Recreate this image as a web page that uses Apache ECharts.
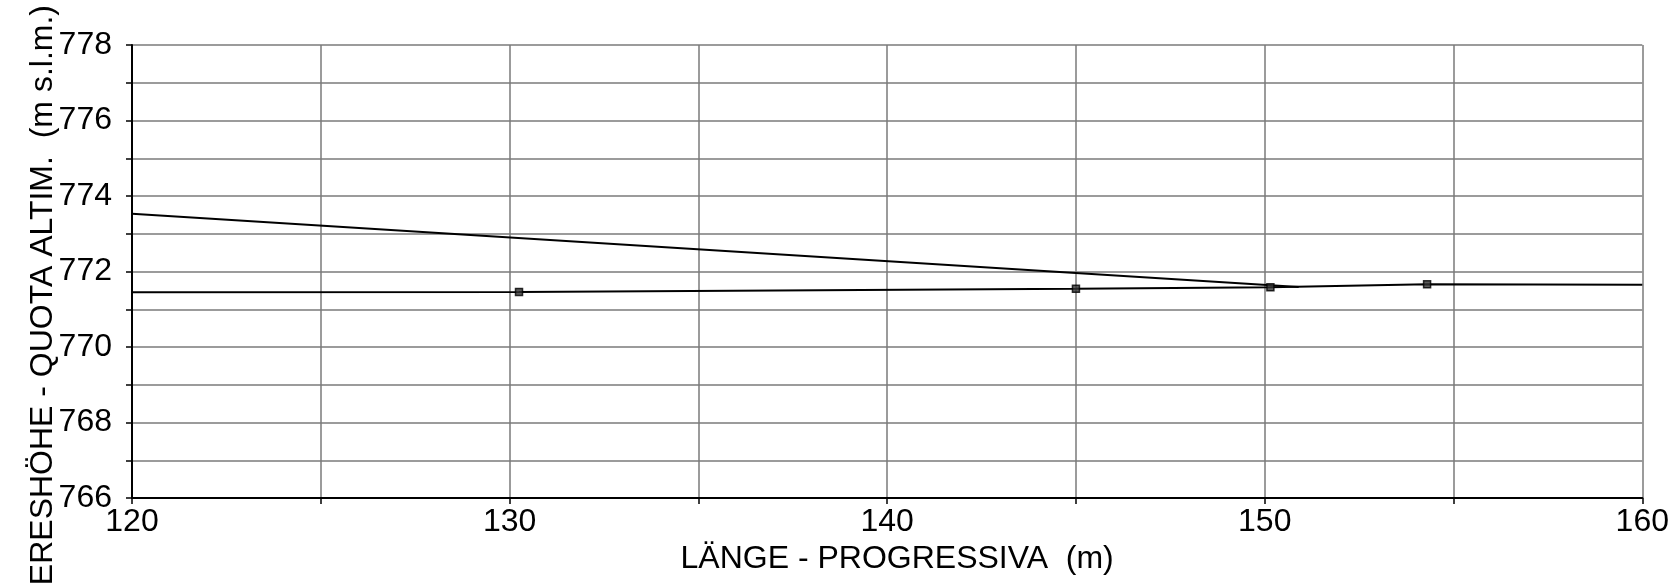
<!DOCTYPE html>
<html>
<head>
<meta charset="utf-8">
<script src="https://cdn.jsdelivr.net/npm/echarts@6/dist/echarts.min.js"></script>
<style>
html,body{margin:0;padding:0;background:#fff;}
#chart{width:1672px;height:585px;}
</style>
</head>
<body>
<div id="chart"></div>
<script>
// Terrain profile (with survey points)
var groundX = [120, 130.25, 145.0, 150.15, 154.3, 160];
var groundY = [771.45, 771.46, 771.54, 771.58, 771.66, 771.65];
// Survey point markers
var pointX = [130.25, 145.0, 150.15, 154.3];
var pointY = [771.46, 771.54, 771.58, 771.66];
// Upper line
var upperX = [120, 150.9];
var upperY = [773.53, 771.59];
// Axis settings
var xMin = 120, xMax = 160, xStep = 5, xLabelStep = 10;
var yMin = 766, yMax = 778, yStep = 1, yLabelStep = 2;
var xTitle = 'LÄNGE - PROGRESSIVA  (m)';
var yTitle = 'MEERESHÖHE - QUOTA ALTIM.  (m s.l.m.)';

function zip(xs, ys){ return xs.map(function(x,i){ return [x, ys[i]]; }); }

var chart = echarts.init(document.getElementById('chart'), null, {renderer:'canvas'});
var font = 'Liberation Sans, Arial, sans-serif';
chart.setOption({
  animation:false,
  backgroundColor:'#fff',
  grid:{left:132, right:27, top:45, bottom:87, containLabel:false},
  xAxis:{
    type:'value', min:xMin, max:xMax, interval:xStep,
    name:xTitle, nameLocation:'middle', nameGap:44,
    nameTextStyle:{fontFamily:font, fontSize:32, color:'#000', padding:[0,0,0,20]},
    axisLine:{show:true, onZero:false, lineStyle:{color:'#000', width:2}},
    axisTick:{show:true, length:6, lineStyle:{color:'#000', width:1.5}},
    axisLabel:{fontFamily:font, fontSize:32, color:'#000', margin:8,
      formatter:function(v){ return (Math.round(v) % xLabelStep === 0) ? String(Math.round(v)) : ''; }},
    splitLine:{show:true, lineStyle:{color:'#7a7a7a', width:1.5}}
  },
  yAxis:{
    type:'value', min:yMin, max:yMax, interval:yStep,
    axisLine:{show:true, onZero:false, lineStyle:{color:'#000', width:2}},
    axisTick:{show:true, length:6, lineStyle:{color:'#000', width:1.5}},
    axisLabel:{fontFamily:font, fontSize:32, color:'#000', margin:20,
      formatter:function(v){ return (Math.round(v) % yLabelStep === 0) ? String(Math.round(v)) : ''; }},
    splitLine:{show:true, lineStyle:{color:'#7a7a7a', width:1.5}}
  },
  graphic:[{
    type:'text', x:43, y:5, rotation:Math.PI/2,
    style:{text:yTitle, fontFamily:font, fontSize:32, fill:'#000', align:'right', verticalAlign:'middle'}
  }],
  series:[
    {type:'line', data:zip(upperX, upperY), symbol:'none', lineStyle:{color:'#000', width:1.8}, z:3},
    {type:'line', data:zip(groundX, groundY), symbol:'none', lineStyle:{color:'#000', width:2}, z:4},
    {type:'scatter', data:zip(pointX, pointY), symbol:'rect', symbolSize:7,
      itemStyle:{color:'#333', borderColor:'#000', borderWidth:1.5}, z:5}
  ]
});
</script>
</body>
</html>
